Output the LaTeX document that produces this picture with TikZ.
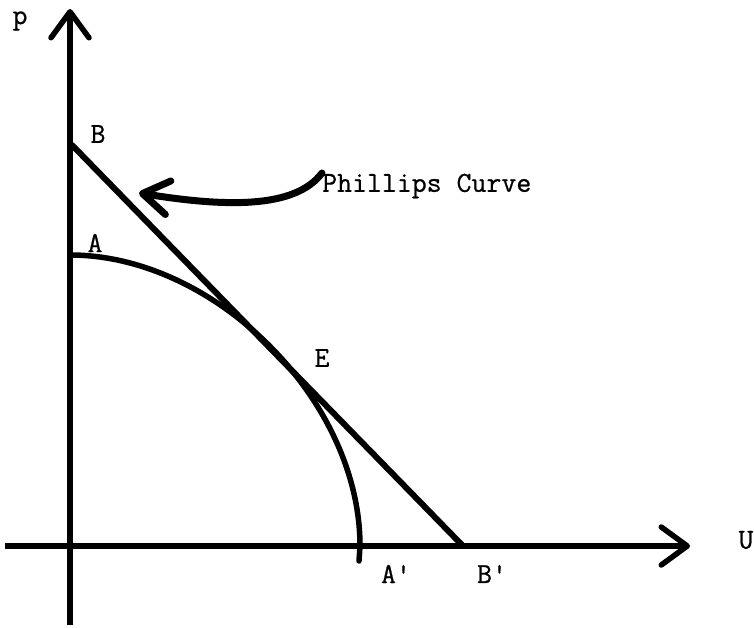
\documentclass[tikz,border=0pt]{standalone}
\usepackage{fontspec}
\newfontfamily\typer[FakeBold=0.7]{Latin Modern Mono}
\usepackage{tikz}
\usetikzlibrary{arrows.meta}

\begin{document}
\begin{tikzpicture}[x=1pt, y=-1pt,
    lbl/.style={inner sep=0pt, font=\fontsize{29}{32}\selectfont\typer},
    axis/.style={line width=5.5pt, -{Straight Barb[length=26pt, width=38pt, round]}},
    curve/.style={line width=6pt, line cap=round}]
    \useasboundingbox (0,0) rectangle (754,628);

    % axes
    \coordinate (ybot) at (70,625);
    \coordinate (ytop) at (70,9);
    \coordinate (xleft) at (5,546);
    \coordinate (xright) at (690,546);
    \draw[axis] (ybot) -- (ytop);
    \draw[axis] (xleft) -- (xright);

    % curves
    \coordinate (B) at (72,145);
    \coordinate (Bp) at (463,546);
    \coordinate (A) at (70,255);
    \coordinate (Ap) at (360,546);
    \draw[curve] (B) -- (Bp);
    \draw[curve, line width=5.5pt] (A) .. controls (215,255) and (360,400) .. (Ap) -- ++(-1,15);

    % labels
    \node[lbl] (lblp) at (20,21) {p};
    \node[lbl] (lblU) at (746,540) {U};
    \node[lbl] (lblB) at (98,134) {B};
    \node[lbl] (lblA) at (95,243) {A};
    \node[lbl] (lblE) at (322,358) {E};
    \node[lbl] (lblAp) at (396,574) {A'};
    \node[lbl] (lblBp) at (492,574) {B'};
    \node[lbl, anchor=west] (lblcurve) at (322,186) {Phillips Curve};

    % pointer
    \coordinate (ptail) at ([yshift=13]lblcurve.west);
    \coordinate (ptip) at (139,193);
    \draw[line width=7pt, line cap=round, -{Straight Barb[length=26pt, width=34pt, round]}]
        (ptail) .. controls (295,209) and (225,207) .. (ptip);
\end{tikzpicture}
\end{document}
